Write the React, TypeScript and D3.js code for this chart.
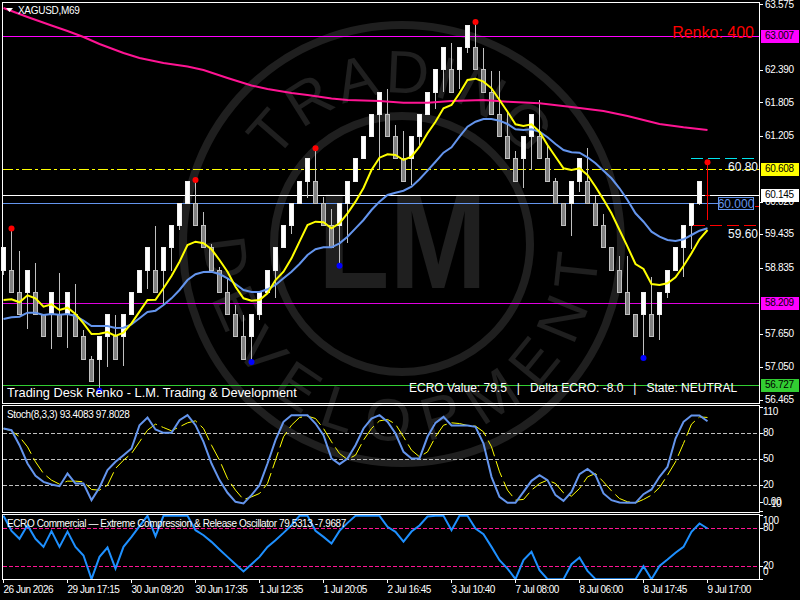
import * as d3 from "d3";

// renko bricks, one per bar
const opens = [58.8,58.8,58.4,58.4,58.4,58,58,58,58,58,57.6,57.2,57.2,57.6,57.6,57.6,58,58.4,58.8,58.8,58.8,59.2,59.6,60,60,59.6,59.2,58.8,58.4,58,57.6,57.6,58,58.4,58.8,59.2,59.6,60,60.4,60.4,60,59.6,59.6,60,60.4,60.8,61.2,61.6,61.6,61.2,60.8,60.8,61.2,61.6,62,62.4,62.4,62.4,62.8,62.8,62.4,62,61.6,61.2,60.8,60.8,61.2,61.2,60.8,60.4,60,60,60.4,60.4,60,59.6,59.2,58.8,58.4,58,58,58,58,58.4,58.8,59.2,59.6,60,60.145];
const closes = [59.2,58.4,58,58.8,58,57.6,58.4,57.6,58.4,57.6,57.2,56.8,57.6,58,57.2,58,58.4,58.8,59.2,58.4,59.2,59.6,60,60.4,59.6,59.2,58.8,58.4,58,57.6,57.2,58,58.4,58.8,59.2,59.6,60,60.4,60.8,60,59.6,59.2,60,60.4,60.8,61.2,61.6,62,61.2,60.8,60.4,61.2,61.6,62,62.4,62.8,62,62.8,63.2,62.4,62,61.6,61.2,60.8,60.4,61.2,61.6,60.8,60.4,60,59.6,60.4,60.8,60,59.6,59.2,58.8,58.4,58,57.6,58.4,57.6,58.4,58.8,59.2,59.6,60,60.4,60.145];
const highs = [59.2,59.55,59.14,58.8,58.93,58,58.4,58.75,58.4,58.55,57.72,57.25,57.6,58,58,58,58.4,58.8,59.2,59.59,59.2,59.6,60,60.4,60.42,59.84,59.27,58.86,58.66,58.17,58,58,58.4,58.8,59.2,59.6,60,60.4,60.8,60.99,60.11,59.9,60,60.4,60.8,61.2,61.6,62,62.05,61.4,61.3,61.2,61.6,62,62.4,62.8,62.88,62.8,63.2,63.26,62.79,62.37,62.37,61.65,60.94,61.2,61.6,61.85,61.07,60.46,60,60.4,60.8,61,60.13,59.8,59.2,59.06,59.05,58,58.4,58.68,58.4,58.8,59.2,59.6,60,60.4,60.74];
const lows = [58.71,58.4,58,57.75,58,57.6,57.39,57.6,57.4,57.6,57.2,56.8,56.63,57.05,57.2,57.07,58,58.4,58.46,58.4,58.2,58.78,59.52,60,59.6,59.2,58.8,58.4,58,57.6,57.2,57.15,57.9,58.4,58.3,59.2,59.45,60,60.1,60,59.6,59.2,58.88,59.28,60.4,60.8,61.2,60.6,61.2,60.8,60.4,60.33,61.02,61.6,61.7,62,62,62.05,62.7,62.4,62,61.6,61.2,60.8,60.4,60.27,60.6,60.8,60.4,60,59.6,59.41,60.2,60,59.6,59.2,58.8,58.4,58,57.6,57.22,57.6,57.54,58.3,58.8,58.68,59.18,59.97,59.7];

const yellowMa = [58.263,58.276,58.222,58.347,58.293,58.143,58.186,58.083,58.125,58.012,57.844,57.652,57.658,57.688,57.616,57.675,57.844,58.053,58.263,58.268,58.473,58.694,58.951,59.251,59.311,59.282,59.174,58.982,58.772,58.502,58.293,58.25,58.263,58.383,58.622,58.772,59.012,59.311,59.611,59.67,59.659,59.551,59.641,59.821,60.03,60.276,60.599,60.82,60.881,60.869,60.779,60.838,61.018,61.259,61.467,61.708,61.767,61.977,62.216,62.24,62.186,62.067,61.857,61.647,61.42,61.39,61.42,61.287,61.048,60.838,60.63,60.599,60.63,60.509,60.299,60.067,59.821,59.521,59.221,58.91,58.82,58.551,58.533,58.563,58.671,58.874,59.102,59.354,59.521];
const blueMa = [57.922,57.953,57.963,58.035,58.035,57.993,58.011,57.999,58.011,57.975,57.891,57.796,57.796,57.796,57.76,57.765,57.826,57.934,58.047,58.071,58.173,58.293,58.443,58.622,58.725,58.766,58.772,58.73,58.653,58.551,58.443,58.407,58.407,58.455,58.533,58.653,58.772,58.91,59.072,59.174,59.21,59.21,59.282,59.401,59.551,59.701,59.88,60.03,60.15,60.191,60.227,60.299,60.432,60.587,60.748,60.91,61.007,61.198,61.377,61.467,61.516,61.516,61.485,61.426,61.33,61.318,61.33,61.287,61.187,61.066,60.959,60.917,60.91,60.827,60.719,60.587,60.45,60.27,60.06,59.821,59.67,59.49,59.401,59.341,59.323,59.354,59.431,59.508,59.551];
const pinkBars = [0,3,6,8,10,12,15,17,20,23,25,28,31,33,36,38,41,43,47,50,53,56,60,63,67,71,75,78,82,85,88];
const pinkMa = [63.51,63.349,63.196,63.097,62.989,62.863,62.702,62.612,62.522,62.459,62.396,62.252,62.118,62.055,61.983,61.947,61.884,61.857,61.839,61.809,61.809,61.839,61.857,61.826,61.798,61.731,61.659,61.57,61.426,61.366,61.318];

const topDots = [1,24,39,59,88];
const bottomDots = [12,31,42,80];

const stochMain = [85.8,83.8,66.5,45.4,31.2,24.2,21.2,19.2,33.8,22.3,22.3,3.1,17.7,37.7,47.3,55,62.7,89.6,98.5,84.6,80.8,80.8,95.4,101.2,89.6,70.4,45.4,26.2,11.6,1.2,-0.8,8.9,20.4,45.4,72.3,93.5,101.2,101.2,101.2,91.5,78.1,51.2,44.6,51.2,66.5,85.8,97.3,101.2,93.5,80,58.8,51.2,51.2,76.2,92.3,99.2,89.2,89.2,89.2,87.7,68.5,30,6.9,0,0,12.7,25.4,31.9,26.2,8.9,2.3,12.7,33.1,39.2,31.9,10.8,3.1,0.4,0,0,10,15.4,30,41.5,74.2,93.5,100.8,100.8,94.2];
const stochSignal = [85.8,83,76.2,64.6,47.3,33.8,26.2,21.5,25,25,24.2,15.4,14.6,20.4,39.6,49.2,56.9,70.4,83.8,90.8,86.9,83.1,87.7,92.3,94.6,85.8,66.5,49.2,28.1,14.6,3.8,6.9,10.8,22.3,49.2,76.2,89.6,98.5,100,97.3,85.8,70.4,56.9,50,55,72.3,85.8,94.6,96.2,90.8,76.2,60.8,53.1,58.8,76.2,89.6,92.3,91.5,89.2,88.5,81.9,64.6,35.8,14.6,3.1,3.9,14.6,22.3,26.2,22.3,11.5,7.7,16.5,30,33.8,24.2,13.8,5,1.2,0,3.9,8.9,17.7,31.9,47.3,68.5,90.8,99.2,98.5];
const ecro = [100,76.3,63.7,85.2,63.7,51,75.8,51,75.2,51,37.4,0,35.2,50,16.8,51,66.8,83.7,100,67.9,100,100,100,100,77.3,69.4,58.9,46.8,35.2,23.7,12.1,23.7,35.2,51,61.6,73.1,85.2,100,100,76.3,66.8,56.3,76.3,88.9,100,100,100,100,82.6,74.7,59.4,75.2,84.7,98.9,100,100,77.3,100,100,80,71,51,30,16.8,0,30,43.1,14.2,0,0,0,23.7,34.2,13.1,0,0,0,0,0,0,20.5,0,21,31,41.6,51,74.7,87.9,80];

const priceTicks = [63.575,62.39,61.805,61.205,60.02,59.435,58.835,57.65,57.05,56.465];
const priceTags = [
  { value: 63.007, bg: "#ff00ff" },
  { value: 60.608, bg: "#ffff00" },
  { value: 60.145, bg: "#ffffff" },
  { value: 58.209, bg: "#ff00ff" },
  { value: 56.727, bg: "#32cd32" },
];
const stochLevels = [80, 50, 20];
const stochTicks = [110, 80, 50, 20, -10, 0];
const ecroLevels = [80, 20];
const ecroTicks = [100, 80, 20, 0];
const timeLabels = ["26 Jun 2026","29 Jun 17:15","30 Jun 09:20","30 Jun 17:35","1 Jul 12:35","1 Jul 20:05","2 Jul 16:45","3 Jul 10:40","7 Jul 08:00","8 Jul 06:00","8 Jul 17:45","9 Jul 17:00"];

const FONT = "'Liberation Sans', sans-serif";
const BG = "#000";
const WM = "#1f1f1f";

const x = d3.scaleLinear().domain([0, 88]).range([3.5, 707.5]);
const y = d3.scaleLinear().domain([63.007, 58.209]).range([36, 303]);
const sy = d3.scaleLinear().domain([80, 20]).range([433.5, 485.5]);
const ey = d3.scaleLinear().domain([80, 20]).range([528.5, 566.5]);

const barIdx = d3.range(opens.length);
const priceLine = d3.line<number>().x((_, i) => x(i)).y((d) => y(d));
const pinkLine = d3.line<number>().x((_, i) => x(pinkBars[i])).y((d) => y(d));
const stochLine = d3.line<number>().x((_, i) => x(i)).y((d) => sy(d));
const ecroLine = d3.line<number>().x((_, i) => x(i)).y((d) => ey(d));

const cx = 402;
const cy = 244;
const circlePath = (r: number, sweep: number) =>
  `M${cx - r},${cy} A${r},${r} 0 1 ${sweep} ${cx + r},${cy} A${r},${r} 0 1 ${sweep} ${cx - r},${cy}`;

function Watermark() {
  return (
    <g>
      <defs>
        <path id="wm-top" d={circlePath(151, 1)} />
        <path id="wm-bottom" d={circlePath(197, 0)} />
      </defs>
      <circle cx={cx} cy={cy} r={219} fill="none" stroke={WM} strokeWidth={8} />
      <circle cx={cx} cy={cy} r={128} fill="none" stroke={WM} strokeWidth={8} />
      <text x={318} y={288} fontSize={135} fontWeight={700} fontFamily={FONT} fill={WM} textLength={169} lengthAdjust="spacingAndGlyphs">
        LM
      </text>
      <text fontSize={60} fontFamily={FONT} fill={WM} textAnchor="middle" letterSpacing={4}>
        <textPath href="#wm-top" startOffset="25%">TRADING</textPath>
      </text>
      <text fontSize={60} fontFamily={FONT} fill={WM} textAnchor="middle" letterSpacing={16}>
        <textPath href="#wm-bottom" startOffset="25%">DEVELOPMENT</textPath>
      </text>
    </g>
  );
}

function Candles() {
  return (
    <g>
      {barIdx.map((i) => {
        const up = closes[i] >= opens[i];
        const last = i === opens.length - 1;
        const top = y(Math.max(opens[i], closes[i]));
        const bottom = y(Math.min(opens[i], closes[i]));
        const px = Math.floor(x(i)) + 0.5;
        if (last) {
          return (
            <g key={i} stroke="#ff0000" shapeRendering="crispEdges">
              <line x1={px} x2={px} y1={y(highs[i])} y2={y(lows[i])} />
              <line x1={px - 2.5} x2={px + 2.5} y1={top} y2={top} />
            </g>
          );
        }
        return (
          <g key={i} shapeRendering="crispEdges">
            <line x1={px} x2={px} y1={y(highs[i])} y2={y(lows[i])} stroke="#c0c0c0" />
            <rect
              x={px - 2}
              y={top}
              width={4}
              height={bottom - top}
              fill={up ? "#ffffff" : "#808080"}
              stroke={up ? "#f0f0f0" : "#c0c0c0"}
            />
          </g>
        );
      })}
    </g>
  );
}

export default function App() {
  const axisText = { fontFamily: FONT, fontSize: 10, letterSpacing: -0.3, fill: "#fff", dominantBaseline: "middle" } as const;
  const infoText = { fontFamily: FONT, fill: "#fff" } as const;
  return (
    <svg width={800} height={600} style={{ position: "absolute", left: 0, top: 0, background: BG, display: "block" }}>
      <defs>
        <clipPath id="stoch-clip"><rect x={3} y={406} width={756} height={106} /></clipPath>
        <clipPath id="ecro-clip"><rect x={3} y={515} width={756} height={64} /></clipPath>
      </defs>
      <Watermark />

      {/* pane frames */}
      <g fill="none" stroke="#fff" shapeRendering="crispEdges">
        <rect x={2.5} y={2.5} width={757} height={401} />
        <rect x={2.5} y={405.5} width={757} height={107} />
        <rect x={2.5} y={514.5} width={757} height={65} />
      </g>

      {/* horizontal levels */}
      <g shapeRendering="crispEdges">
        <line x1={3} x2={759} y1={y(63.007)} y2={y(63.007)} stroke="#ff00ff" />
        <line x1={3} x2={759} y1={y(60.608)} y2={y(60.608)} stroke="#ffff00" strokeDasharray="10 3 3 3" />
        <line x1={3} x2={759} y1={y(60.145)} y2={y(60.145)} stroke="#ffffff" />
        <line x1={3} x2={718} y1={y(60)} y2={y(60)} stroke="#6495ed" />
        <line x1={3} x2={759} y1={y(58.209)} y2={y(58.209)} stroke="#e000e0" />
        <line x1={3} x2={759} y1={y(56.727)} y2={y(56.727)} stroke="#32cd32" />
      </g>

      <Candles />

      <path d={pinkLine(pinkMa) ?? ""} fill="none" stroke="#ff1493" strokeWidth={2} />
      <path d={priceLine(blueMa) ?? ""} fill="none" stroke="#6495ed" strokeWidth={2} />
      <path d={priceLine(yellowMa) ?? ""} fill="none" stroke="#ffff00" strokeWidth={2} />

      {topDots.map((i) => <circle key={i} cx={x(i)} cy={y(highs[i])} r={3} fill="#ff0000" />)}
      {bottomDots.map((i) => <circle key={i} cx={x(i)} cy={y(lows[i])} r={3} fill="#0000ff" />)}

      {/* renko targets near the last bar */}
      <g shapeRendering="crispEdges" strokeDasharray="12 5">
        <line x1={691} x2={757} y1={y(60.8)} y2={y(60.8)} stroke="#00e5ee" />
        <line x1={693} x2={757} y1={y(59.6)} y2={y(59.6)} stroke="#ff0000" />
      </g>
      <line x1={755} x2={759} y1={206.5} y2={206.5} stroke="#ff0000" shapeRendering="crispEdges" />

      <text x={754} y={38} textAnchor="end" fontFamily={FONT} fontSize={16} fill="#ff0000">Renko: 400</text>
      <text x={758} y={171} textAnchor="end" fontFamily={FONT} fontSize={12} fill="#eef6ff">60.80</text>
      <text x={758} y={238} textAnchor="end" fontFamily={FONT} fontSize={12} fill="#eef6ff">59.60</text>
      <rect x={718.5} y={197.5} width={35} height={12} fill="#000" stroke="#6495ed" shapeRendering="crispEdges" />
      <text x={736} y={207.5} textAnchor="middle" fontFamily={FONT} fontSize={12} fill="#6495ed">60.000</text>

      <text x={18} y={14} fontFamily={FONT} fontSize={10} letterSpacing={-0.3} fill="#fff">XAGUSD,M69</text>
      <path d="M6,8 L13,8 L9.5,12 Z" fill="#fff" />

      <text x={7} y={397} {...infoText} fontSize={12.8}>Trading Desk Renko - L.M. Trading &amp; Development</text>
      <text x={409} y={392} {...infoText} fontSize={12} style={{ whiteSpace: "pre" }}>{"ECRO Value: 79.5   |   Delta ECRO: -8.0   |   State: NEUTRAL"}</text>

      {/* price axis */}
      <g>
        {priceTicks.map((t) => (
          <g key={t}>
            <line x1={760} x2={763} y1={y(t)} y2={y(t)} stroke="#fff" shapeRendering="crispEdges" />
            <text x={765} y={Math.max(5.5, y(t))} {...axisText}>{t.toFixed(3)}</text>
          </g>
        ))}
        {priceTags.map((t) => (
          <g key={t.value}>
            <rect x={761} y={y(t.value) - 6.5} width={38} height={13} fill={t.bg} shapeRendering="crispEdges" />
            <text x={765} y={y(t.value)} {...axisText} fill="#000">{t.value.toFixed(3)}</text>
          </g>
        ))}
      </g>

      {/* stochastic pane */}
      <g shapeRendering="crispEdges" stroke="#c0c0c0" strokeDasharray="4 2">
        {stochLevels.map((l) => <line key={l} x1={3} x2={759} y1={sy(l)} y2={sy(l)} />)}
      </g>
      <g clipPath="url(#stoch-clip)">
        <path d={stochLine(stochSignal) ?? ""} fill="none" stroke="#ffff00" strokeWidth={1} strokeDasharray="17 5" />
        <path d={stochLine(stochMain) ?? ""} fill="none" stroke="#6495ed" strokeWidth={2} />
      </g>
      <text x={7} y={418} fontFamily={FONT} fontSize={10} letterSpacing={-0.35} fill="#fff">Stoch(8,3,3) 93.4083 97.8028</text>
      {stochTicks.map((t) => {
        const ty = Math.min(504, Math.max(412.5, sy(t)));
        return (
          <g key={t}>
            <line x1={760} x2={763} y1={sy(t)} y2={sy(t)} stroke="#fff" shapeRendering="crispEdges" />
            <text x={t === -10 ? 768 : 763} y={ty} {...axisText}>{t === 0 ? "0.00" : t}</text>
          </g>
        );
      })}

      {/* ecro pane */}
      <g shapeRendering="crispEdges" stroke="#ff1493" strokeDasharray="4 2">
        {ecroLevels.map((l) => <line key={l} x1={3} x2={759} y1={ey(l)} y2={ey(l)} />)}
      </g>
      <g clipPath="url(#ecro-clip)">
        <path d={ecroLine(ecro) ?? ""} fill="none" stroke="#1e90ff" strokeWidth={2} />
      </g>
      <text x={7} y={527} fontFamily={FONT} fontSize={10} letterSpacing={-0.4} fill="#fff">
        ECRO Commercial — Extreme Compression &amp; Release Oscillator 79.5313 -7.9687
      </text>
      {ecroTicks.map((t) => (
        <g key={t}>
          <line x1={760} x2={763} y1={ey(t)} y2={ey(t)} stroke="#fff" shapeRendering="crispEdges" />
          <text x={763} y={Math.min(572.5, Math.max(521, ey(t)))} {...axisText}>{t}</text>
        </g>
      ))}

      {/* time axis */}
      {timeLabels.map((t, k) => {
        const tx = Math.floor(x(k * 8)) + 0.5;
        return (
          <g key={t}>
            <line x1={tx} x2={tx} y1={579} y2={583} stroke="#fff" shapeRendering="crispEdges" />
            <text x={tx} y={593} fontFamily={FONT} fontSize={10} letterSpacing={-0.5} fill="#fff">{t}</text>
          </g>
        );
      })}
    </svg>
  );
}
